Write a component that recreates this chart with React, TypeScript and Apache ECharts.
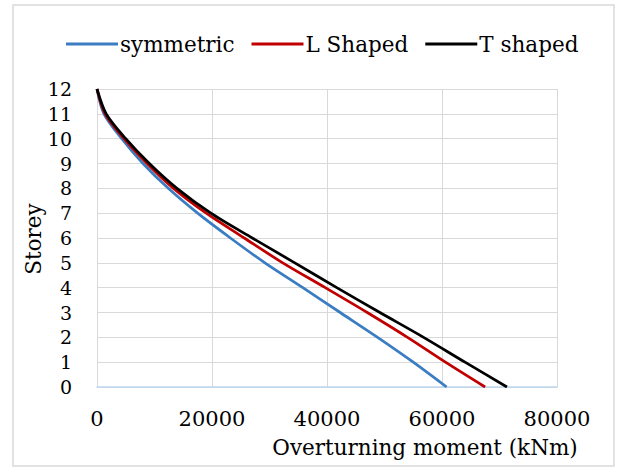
import React, { useEffect, useRef } from "react";
import * as echarts from "echarts";

const storeys = [12, 11, 10, 9, 8, 7, 6, 5, 4, 3, 2, 1, 0];
const symmetric = [0, 1200, 4300, 8000, 12400, 17500, 23200, 29200, 35800, 42300, 48800, 55000, 60800];
const lShaped = [0, 1400, 4700, 8700, 13300, 19000, 25600, 32300, 39700, 47000, 54000, 60600, 67500];
const tShaped = [0, 1600, 5000, 9100, 13900, 19800, 27000, 34400, 41700, 49200, 56800, 64000, 71300];
const seriesNames = ["symmetric", "L Shaped", "T shaped"];
const seriesColors = ["#3A7DC2", "#C00000", "#000000"];
const xAxisTitle = "Overturning moment (kNm)";
const yAxisTitle = "Storey";

const FONT = "DejaVu Serif";

export default function App() {
  const ref = useRef<HTMLDivElement>(null);
  useEffect(() => {
    if (!ref.current) return;
    const chart = echarts.init(ref.current, null, { renderer: "svg" });
    const allValues = [symmetric, lShaped, tShaped];
    chart.setOption({
      animation: false,
      backgroundColor: "#FFFFFF",
      textStyle: { fontFamily: FONT },
      legend: {
        left: 61,
        top: 28,
        itemWidth: 52,
        itemHeight: 3,
        itemGap: 17,
        icon: "rect",
        textStyle: { fontFamily: FONT, fontSize: 21.5, color: "#000", padding: [0, 0, 0, -3] },
        data: seriesNames,
      },
      grid: { left: 97, right: 64, top: 89, bottom: 81 },
      xAxis: {
        type: "value",
        min: 0,
        max: 80000,
        interval: 20000,
        axisLine: { show: true, lineStyle: { color: "#BDD7EE", width: 1.5 } },
        axisTick: { show: false },
        axisLabel: {
          fontFamily: FONT,
          fontSize: 21,
          color: "#000",
          margin: 21,
          formatter: (v: number) => String(v),
        },
        splitLine: { show: true, lineStyle: { color: "#D9D9D9", width: 1 } },
      },
      yAxis: {
        type: "value",
        min: 0,
        max: 12,
        interval: 1,
        axisLine: { show: false },
        axisTick: { show: false },
        axisLabel: { fontFamily: FONT, fontSize: 19, color: "#000", margin: 25 },
        splitLine: { show: true, lineStyle: { color: "#D9D9D9", width: 1 } },
      },
      graphic: [
        {
          type: "rect",
          shape: { x: 13, y: 5, width: 601, height: 461 },
          style: { fill: "none", stroke: "#D9D9D9", lineWidth: 1.5 },
          silent: true,
        },
        {
          type: "text",
          x: 33,
          y: 239,
          rotation: Math.PI / 2,
          style: {
            text: yAxisTitle,
            fontFamily: FONT,
            fontSize: 21.5,
            fill: "#000",
            align: "center",
            verticalAlign: "middle",
          },
        },
        {
          type: "text",
          x: 425,
          y: 447,
          style: {
            text: xAxisTitle,
            fontFamily: FONT,
            fontSize: 21.5,
            fill: "#000",
            align: "center",
            verticalAlign: "middle",
          },
        },
      ],
      series: seriesNames.map((name, i) => ({
        name,
        type: "line",
        symbol: "none",
        smooth: 0.3,
        color: seriesColors[i],
        lineStyle: { color: seriesColors[i], width: 2.75 },
        data: storeys.map((s, k) => [allValues[i][k], s]),
        z: 3 + i,
      })),
    });
    return () => chart.dispose();
  }, []);
  return (
    <div
      ref={ref}
      style={{ position: "fixed", left: 0, top: 0, width: 621, height: 468, background: "#fff" }}
    />
  );
}
